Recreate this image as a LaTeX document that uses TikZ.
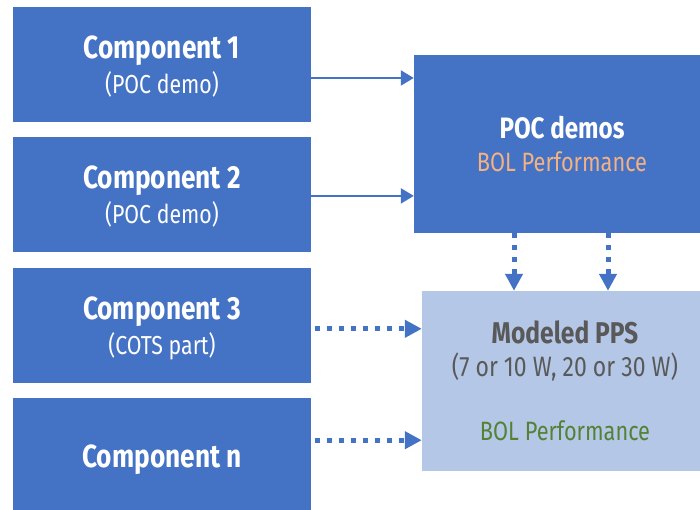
\documentclass[tikz,border=0pt]{standalone}
\usepackage{fontspec}
\setmainfont{Fira Sans}[FakeStretch=0.82]
\usepackage{xcolor}
\definecolor{compBlue}{HTML}{4472C4}
\definecolor{ppsLight}{HTML}{B4C7E7}
\definecolor{bolOrange}{HTML}{F4B183}
\definecolor{bolGreen}{HTML}{548235}
\definecolor{ppsText}{HTML}{595959}
\usepackage{tikz}
\usetikzlibrary{%
    arrows.meta,
    positioning
}

\begin{document}
\begin{tikzpicture}[x=1pt, y=1pt,
                comp/.style={rectangle, minimum width=298pt, minimum height=115pt, text centered, fill=compBlue, text=white, align=center, inner sep=0pt, text depth=0pt, font=\fontsize{26}{35}\selectfont},
                block/.style={rectangle, text centered, align=center, inner sep=0pt, font=\fontsize{26.5}{33}\selectfont},
                flow/.style={draw=compBlue, line width=2pt, -{Triangle[length=13pt, width=15pt]}},
                dot_flow/.style={draw=compBlue, line width=5pt, dash pattern=on 5pt off 7pt, -{Triangle[length=17pt, width=17pt]}}
            ]
            \clip (0,0) rectangle (700,509);

            \node (comp1) at (162,444.5) [comp] {{\fontsize{32}{32}\selectfont\bfseries Component 1}\\(POC demo)};
            \node (comp2) [comp, below=15pt of comp1] {{\fontsize{32}{32}\selectfont\bfseries Component 2}\\(POC demo)};
            \node (comp3) [comp, below=15pt of comp2] {{\fontsize{32}{32}\selectfont\bfseries Component 3}\\(COTS part)};
            \node (compn) [comp, below=15pt of comp3] {{\fontsize{32}{32}\selectfont\bfseries Component n}};

            \node (poc) at (562,365) [block, fill=compBlue, minimum width=296pt, minimum height=178pt] {{\fontsize{29.5}{33}\selectfont\bfseries\color{white}POC demos}\\{\color{bolOrange}BOL Performance}};

            \node (pps) at (565,128) [block, fill=ppsLight, minimum width=286pt, minimum height=180pt] {{\fontsize{30}{33}\selectfont\bfseries\color{ppsText}Modeled PPS}\\{\fontsize{28}{33}\selectfont\color{ppsText}(7 or 10 W, 20 or 30 W)}\\[31pt]{\color{bolGreen}BOL Performance}};

            \draw [flow] ([yshift=-13.5pt]comp1.east) -- ([yshift=-13.5pt]comp1.east -| poc.west);
            \draw [flow] ([yshift=-1pt]comp2.east) -- ([yshift=-1pt]comp2.east -| poc.west);

            \draw [dot_flow] ([xshift=4pt, yshift=-3.5pt]comp3.east) -- ([yshift=-3.5pt]comp3.east -| pps.west);
            \draw [dot_flow] ([xshift=4pt, yshift=15.5pt]compn.east) -- ([yshift=15.5pt]compn.east -| pps.west);

            \draw [dot_flow] ([xshift=-48pt]poc.south) -- ([xshift=-48pt]poc.south |- pps.north);
            \draw [dot_flow] ([xshift=46pt]poc.south) -- ([xshift=46pt]poc.south |- pps.north);
        \end{tikzpicture}
\end{document}
